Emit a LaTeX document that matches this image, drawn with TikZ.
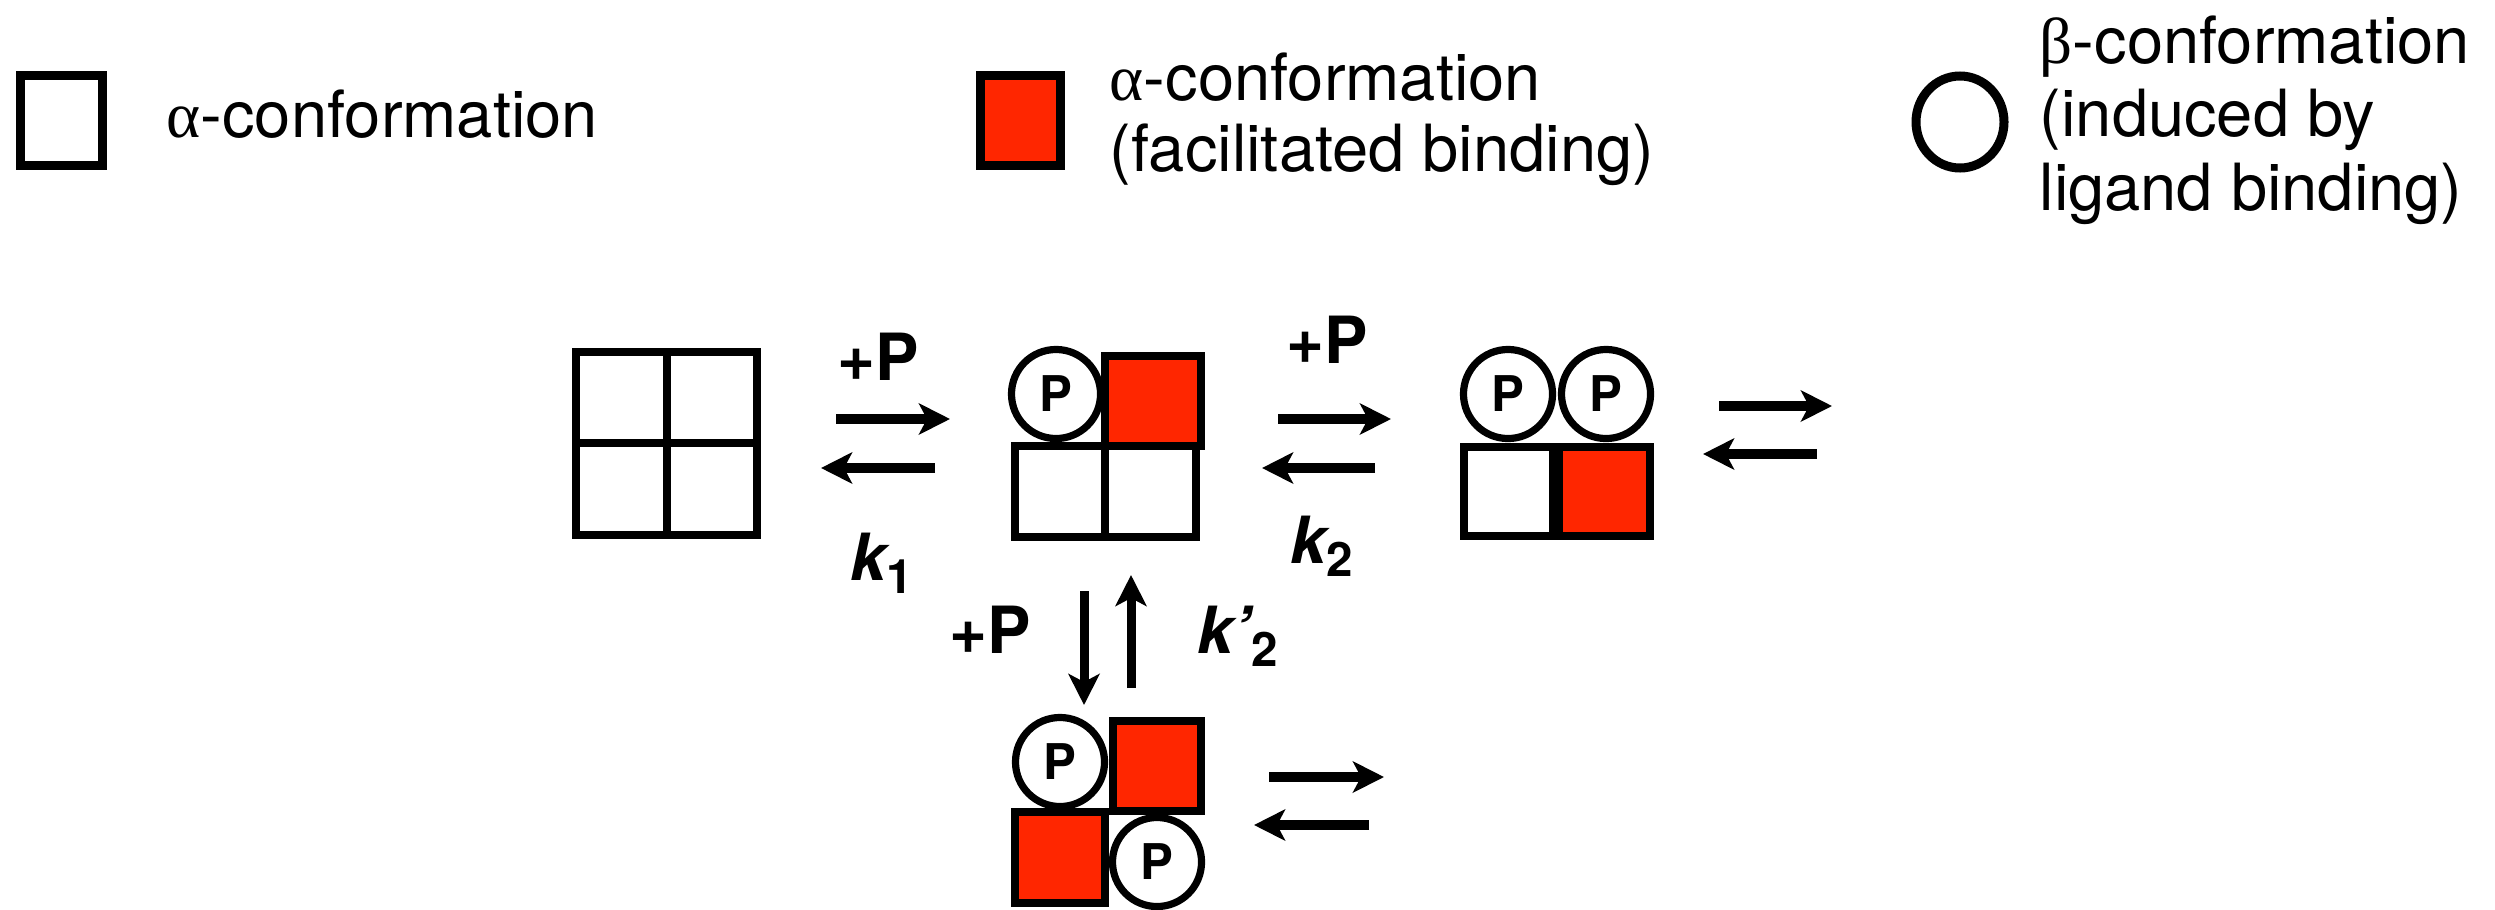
\documentclass[tikz,border=0pt]{standalone}
\usepackage{fontspec}
\setmainfont{TeX Gyre Heros}
\newfontfamily\grk{Liberation Serif}
\usetikzlibrary{arrows.meta}
\definecolor{facil}{RGB}{255,38,0}

% bold rate-constant subscript
\newcommand\ksub[1]{\raisebox{-3.8pt}{\fontsize{13.5}{13.5}\selectfont\upshape\bfseries #1}}

\begin{document}
\begin{tikzpicture}[x=0.01cm,y=-0.01cm,
  cell/.style={draw=black, line width=0.075cm, line join=miter},
  redcell/.style={cell, fill=facil},
  legcell/.style={draw=black, line width=0.09cm, line join=miter},
  pcirc/.style={circle, draw=black, line width=0.072cm, fill=white,
    minimum size=0.89cm, inner sep=0pt,
    font=\fontsize{14}{14}\selectfont\bfseries},
  eq/.style={line width=0.1cm,
    -{Stealth[length=0.31cm,width=0.31cm,inset=0.08cm]}},
  eqv/.style={eq, line width=0.09cm},
  lbl/.style={font=\fontsize{18.5}{18.5}\selectfont\bfseries, inner sep=0pt},
  klbl/.style={font=\fontsize{18.5}{18.5}\selectfont\bfseries\itshape,
    inner sep=0pt, anchor=base west},
  legtxt/.style={inner sep=0pt, anchor=base west}
]
\useasboundingbox (0,0) rectangle (2495,909);

% ---------- legend ----------
\draw[legcell] (20.5,75.5) rectangle (102.5,165.5);
\node[legtxt, font=\fontsize{18.5}{20.4}\selectfont] (lega) at (166,137)
  {{\grk α}-conformation};

\draw[legcell, fill=facil] (980.5,75.5) rectangle (1060.5,165.5);
\node[legtxt, font=\fontsize{18.5}{20.4}\selectfont] (legb) at (1109,100)
  {\begin{tabular}[t]{@{}l@{}}{\grk α}-conformation\\(facilitated binding)\end{tabular}};

\draw[line width=0.09cm] (1960,122) ellipse [x radius=44, y radius=46];
\node[legtxt, font=\fontsize{18.5}{21}\selectfont] (legc) at (2039,63)
  {\begin{tabular}[t]{@{}l@{}}{\grk β}-conformation\\(induced by\\ligand binding)\end{tabular}};

% ---------- empty tetramer ----------
\draw[cell] (576,352) rectangle (667,443);
\draw[cell] (667,352) rectangle (757,443);
\draw[cell] (576,443) rectangle (667,535);
\draw[cell] (667,443) rectangle (757,535);

% ---------- one ligand bound ----------
\draw[cell] (1015,446) rectangle (1105,537);
\draw[cell] (1105,446) rectangle (1196,537);
\draw[redcell] (1105,356) rectangle (1201,446);
\node[pcirc] (m1) at (1056,394) {P};

% ---------- two ligands, same side ----------
\draw[cell] (1464,447) rectangle (1553,536);
\draw[redcell] (1559,447) rectangle (1650,536);
\node[pcirc] (r1) at (1508,394) {P};
\node[pcirc] (r2) at (1606,394) {P};

% ---------- two ligands, diagonal ----------
\draw[redcell] (1113,721) rectangle (1201,811);
\draw[redcell] (1015,812) rectangle (1105,903);
\node[pcirc] (b1) at (1060,762) {P};
\node[pcirc] (b2) at (1157,862) {P};

% ---------- equilibrium arrows ----------
\coordinate (a1s) at (836,419);  \coordinate (a1e) at (950,419);
\coordinate (a2s) at (935,468);  \coordinate (a2e) at (821,468);
\coordinate (a3s) at (1278,419); \coordinate (a3e) at (1391,419);
\coordinate (a4s) at (1375,468); \coordinate (a4e) at (1262,468);
\coordinate (a5s) at (1719,406); \coordinate (a5e) at (1832,406);
\coordinate (a6s) at (1817,454); \coordinate (a6e) at (1703,454);
\coordinate (a7s) at (1084,591); \coordinate (a7e) at (1084,705);
\coordinate (a8s) at (1131,688); \coordinate (a8e) at (1131,575);
\coordinate (a9s) at (1269,777); \coordinate (a9e) at (1384,777);
\coordinate (a10s) at (1369,825); \coordinate (a10e) at (1254,825);

\draw[eq] (a1s) -- (a1e);
\draw[eq] (a2s) -- (a2e);
\draw[eq] (a3s) -- (a3e);
\draw[eq] (a4s) -- (a4e);
\draw[eq] (a5s) -- (a5e);
\draw[eq] (a6s) -- (a6e);
\draw[eqv] (a7s) -- (a7e);
\draw[eqv] (a8s) -- (a8e);
\draw[eq] (a9s) -- (a9e);
\draw[eq] (a10s) -- (a10e);

% ---------- labels ----------
\node[lbl, anchor=base] (p1) at (878,380) {+P};
\node[lbl, anchor=base] (p2) at (1327,363) {+P};
\node[lbl, anchor=base] (p3) at (990,653) {+P};
\node[klbl] (k1) at (850,580) {k\ksub{1}};
\node[klbl] (k2) at (1290,563) {k\ksub{2}};
\node[klbl] (k3) at (1197,653) {k’\ksub{2}};
\end{tikzpicture}
\end{document}
